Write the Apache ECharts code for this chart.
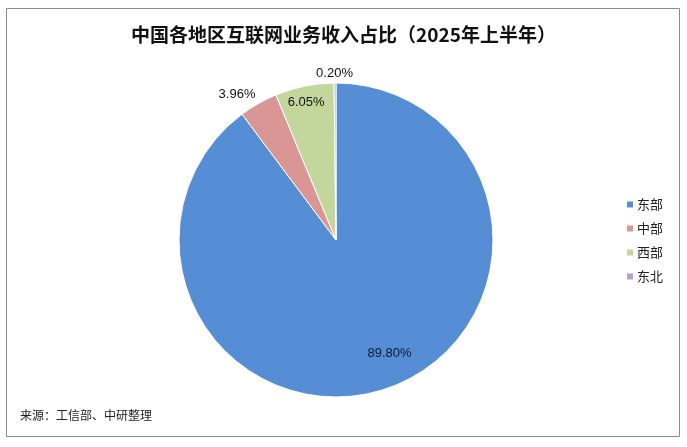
<!DOCTYPE html>
<html><head><meta charset="utf-8">
<script src="https://cdn.jsdelivr.net/npm/echarts@6/dist/echarts.min.js"></script>
<style>html,body{margin:0;padding:0;background:#fff}#c{width:687px;height:447px}</style>
</head><body><div id="c"></div>
<script>
const titleText = '中国各地区互联网业务收入占比（2025年上半年）';
const sourceText = '来源：工信部、中研整理';
const categories = ['东部', '中部', '西部', '东北'];
const values = [89.80, 3.96, 6.05, 0.20];
const colors = ['#558ED5', '#D99694', '#C3D69B', '#B3A2C7'];
const outsideLabels = ['中部', '东北'];
const innerLabelsA = ['东部'];
const innerLabelsB = ['西部'];

const fmt = p => p.value.toFixed(2) + '%';
const center = ['336', '240'];
const R = 157;
const labelFont = {fontFamily: 'Liberation Sans Narrow, Liberation Sans, Arial', fontSize: 13, color: '#111'};

function mkData(showSet, pos, transparent, extra) {
  return categories.map((n, i) => ({
    name: n, value: values[i],
    itemStyle: transparent ? {color: 'rgba(0,0,0,0)', borderWidth: 0} : {color: colors[i]},
    label: Object.assign({show: showSet.indexOf(n) >= 0, position: pos}, (extra && extra[n]) || {})
  }));
}

const chart = echarts.init(document.getElementById('c'));
chart.setOption({
  animation: false,
  backgroundColor: '#fff',
  title: {text: titleText, left: 'center', top: 20,
    textStyle: {fontFamily: 'Noto Sans CJK SC', fontSize: 19, fontWeight: 'bold', color: '#111'}},
  legend: {orient: 'vertical', left: 620, top: 193, itemWidth: 8, itemHeight: 8, itemGap: 11,
    icon: 'rect', data: categories,
    textStyle: {fontFamily: 'Noto Sans CJK SC', fontSize: 13, color: '#222', padding: [0, 0, 0, -2]}},
  graphic: [
    {type: 'rect', shape: {x: 6.5, y: 8.5, width: 673, height: 428},
      style: {fill: 'none', stroke: '#8c8c8c', lineWidth: 1}, silent: true, z: -1},
    {type: 'text', left: 20, top: 409, style: {text: sourceText,
      font: '12px "Noto Sans CJK SC"', fill: '#222'}}
  ],
  series: [
    {type: 'pie', center: center, radius: [0, R], startAngle: 90, clockwise: true,
      avoidLabelOverlap: false, silent: true,
      itemStyle: {borderColor: '#fff', borderWidth: 1},
      label: Object.assign({formatter: fmt, distanceToLabelLine: 0}, labelFont),
      labelLine: {show: false, length: 10, length2: 0},
      data: mkData(outsideLabels, 'outside', false, {'东北': {distanceToLabelLine: -18}, '中部': {distanceToLabelLine: -2}})},
    {type: 'pie', center: center, radius: [88, R], startAngle: 90, clockwise: true,
      silent: true, legendHoverLink: false,
      label: Object.assign({formatter: fmt}, labelFont, {color: '#0d1a33', offset: [14, -6]}),
      labelLine: {show: false},
      data: mkData(innerLabelsA, 'inside', true)},
    {type: 'pie', center: center, radius: [124, R], startAngle: 90, clockwise: true,
      silent: true, legendHoverLink: false,
      label: Object.assign({formatter: fmt}, labelFont, {offset: [-1, 3]}),
      labelLine: {show: false},
      data: mkData(innerLabelsB, 'inside', true)}
  ]
});
</script></body></html>
